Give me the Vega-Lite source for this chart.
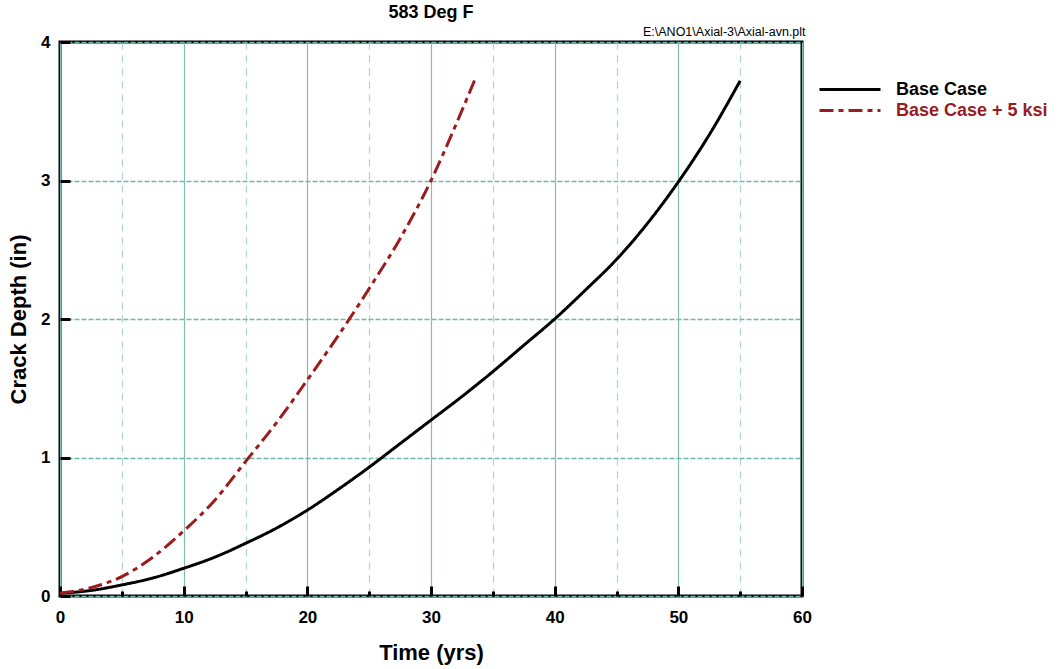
{
  "$schema": "https://vega.github.io/schema/vega-lite/v6.json",
  "autosize": "none",
  "width": 742,
  "height": 554,
  "padding": {"left": 60, "top": 42, "right": 258, "bottom": 73},
  "background": "white",
  "title": {"text": "583 Deg F", "anchor": "middle", "fontSize": 18, "font": "Liberation Sans", "fontWeight": "bold", "color": "#000", "offset": 11},
  "data": {"values": [
    {"series": "Base Case", "t": 0, "depth": 0.02},
    {"series": "Base Case", "t": 2.5, "depth": 0.04},
    {"series": "Base Case", "t": 5, "depth": 0.08},
    {"series": "Base Case", "t": 7.5, "depth": 0.13},
    {"series": "Base Case", "t": 10, "depth": 0.2},
    {"series": "Base Case", "t": 12.5, "depth": 0.28},
    {"series": "Base Case", "t": 15, "depth": 0.38},
    {"series": "Base Case", "t": 17.5, "depth": 0.49},
    {"series": "Base Case", "t": 20, "depth": 0.62},
    {"series": "Base Case", "t": 22.5, "depth": 0.77},
    {"series": "Base Case", "t": 25, "depth": 0.93},
    {"series": "Base Case", "t": 27.5, "depth": 1.1},
    {"series": "Base Case", "t": 30, "depth": 1.27},
    {"series": "Base Case", "t": 32.5, "depth": 1.44},
    {"series": "Base Case", "t": 35, "depth": 1.62},
    {"series": "Base Case", "t": 37.5, "depth": 1.81},
    {"series": "Base Case", "t": 40, "depth": 2.0},
    {"series": "Base Case", "t": 42.5, "depth": 2.21},
    {"series": "Base Case", "t": 45, "depth": 2.43},
    {"series": "Base Case", "t": 47.5, "depth": 2.69},
    {"series": "Base Case", "t": 50, "depth": 2.99},
    {"series": "Base Case", "t": 52.5, "depth": 3.33},
    {"series": "Base Case", "t": 55, "depth": 3.72},
    {"series": "Base Case + 5 ksi", "t": 0, "depth": 0.02},
    {"series": "Base Case + 5 ksi", "t": 2.5, "depth": 0.06},
    {"series": "Base Case + 5 ksi", "t": 5, "depth": 0.14},
    {"series": "Base Case + 5 ksi", "t": 7.5, "depth": 0.28},
    {"series": "Base Case + 5 ksi", "t": 10, "depth": 0.47},
    {"series": "Base Case + 5 ksi", "t": 12.5, "depth": 0.69},
    {"series": "Base Case + 5 ksi", "t": 15, "depth": 0.97},
    {"series": "Base Case + 5 ksi", "t": 17.5, "depth": 1.25},
    {"series": "Base Case + 5 ksi", "t": 20, "depth": 1.56},
    {"series": "Base Case + 5 ksi", "t": 22.5, "depth": 1.88},
    {"series": "Base Case + 5 ksi", "t": 25, "depth": 2.22},
    {"series": "Base Case + 5 ksi", "t": 27.5, "depth": 2.58},
    {"series": "Base Case + 5 ksi", "t": 30, "depth": 3.0},
    {"series": "Base Case + 5 ksi", "t": 32, "depth": 3.4},
    {"series": "Base Case + 5 ksi", "t": 33.6, "depth": 3.74}
  ]},
  "mark": {"type": "line", "strokeWidth": 3, "interpolate": "monotone"},
  "encoding": {
    "x": {"field": "t", "type": "quantitative", "scale": {"domain": [0, 60], "nice": false},
      "axis": {"orient": "bottom", "title": "Time (yrs)", "values": [0, 5, 10, 15, 20, 25, 30, 35, 40, 45, 50, 55, 60],
        "format": "d", "labelFlush": false, "labelOverlap": false,
        "labelExpr": "datum.value % 10 === 0 ? datum.label : ''",
        "grid": true,
        "gridColor": {"condition": {"test": "datum.value % 10 === 0", "value": "#7fbfb6"}, "value": "#a8d3cf"},
        "gridDash": {"condition": {"test": "datum.value % 10 === 0", "value": [1, 0]}, "value": [7, 6]},
        "gridWidth": 1.2,
        "tickSize": {"condition": {"test": "datum.value % 10 === 0", "value": -10}, "value": -5},
        "tickWidth": 3, "tickColor": "#000", "labelPadding": 23, "domain": false,
        "labelFontSize": 17, "labelFont": "Liberation Sans", "labelFontWeight": "bold", "labelColor": "#000",
        "titleFontSize": 22, "titleFont": "Liberation Sans", "titleFontWeight": "bold", "titleColor": "#000", "titlePadding": 12}},
    "y": {"field": "depth", "type": "quantitative", "scale": {"domain": [0, 4], "nice": false},
      "axis": {"orient": "left", "title": "Crack Depth (in)", "values": [0, 0.5, 1, 1.5, 2, 2.5, 3, 3.5, 4],
        "format": "d", "labelFlush": false, "labelOverlap": false,
        "labelExpr": "datum.value % 1 === 0 ? datum.label : ''",
        "grid": true,
        "gridColor": {"condition": {"test": "datum.value % 1 === 0", "value": "#6fb8ae"}, "value": "#ececec"},
        "gridDash": {"condition": {"test": "datum.value % 1 === 0", "value": [5, 2]}, "value": [3, 4]},
        "gridWidth": 1.3,
        "tickSize": {"condition": {"test": "datum.value % 1 === 0", "value": -10}, "value": -5},
        "tickWidth": 3, "tickColor": "#000", "labelPadding": 20, "domain": false,
        "labelFontSize": 17, "labelFont": "Liberation Sans", "labelFontWeight": "bold", "labelColor": "#000",
        "titleFontSize": 22, "titleFont": "Liberation Sans", "titleFontWeight": "bold", "titleColor": "#000", "titlePadding": 10}},
    "color": {"field": "series", "type": "nominal", "scale": {"domain": ["Base Case", "Base Case + 5 ksi"], "range": ["#000000", "#9b1b1e"]},
      "legend": {"title": "E:\\ANO1\\Axial-3\\Axial-avn.plt",
        "encode": {
          "labels": {"update": {"fill": {"signal": "datum.value === 'Base Case' ? '#000000' : '#9b1b1e'"}}},
          "title": {"update": {"dy": {"value": -40}}}}}},
    "strokeDash": {"field": "series", "type": "nominal", "scale": {"domain": ["Base Case", "Base Case + 5 ksi"], "range": [[1, 0], [14, 5, 5, 5]]},
      "legend": {"title": "E:\\ANO1\\Axial-3\\Axial-avn.plt"}}
  },
  "config": {
    "view": {"stroke": "#000", "strokeWidth": 3},
    "legend": {
      "orient": "none", "legendX": 583, "legendY": 37, "padding": 0,
      "titleOrient": "left", "titleAnchor": "start", "titleBaseline": "bottom",
      "titleFontSize": 12.5, "titleFont": "Liberation Sans", "titleFontWeight": "normal", "titleColor": "#000", "titlePadding": 12, "titleLimit": 400,
      "symbolType": "stroke", "symbolSize": 3721, "symbolStrokeWidth": 3,
      "labelFontSize": 18, "labelFont": "Liberation Sans", "labelFontWeight": "bold",
      "labelOffset": 14, "clipHeight": 21, "rowPadding": 0, "labelLimit": 300
    }
  }
}
